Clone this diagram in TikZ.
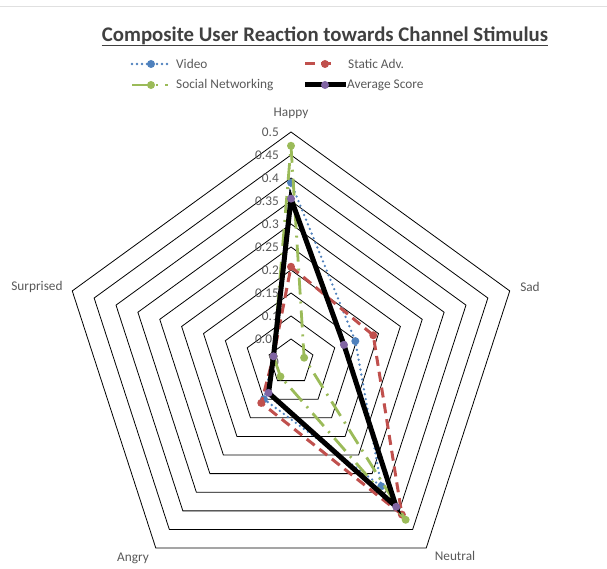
\documentclass[tikz,border=0pt]{standalone}
\usepackage{fontspec}
\setmainfont{Carlito}
\usepackage{tikz}
\definecolor{vidblue}{RGB}{79,129,189}
\definecolor{advred}{RGB}{192,80,77}
\definecolor{socgreen}{RGB}{155,187,89}
\definecolor{avgpurple}{RGB}{128,100,162}
\definecolor{labgrey}{RGB}{89,89,89}
\definecolor{titlegrey}{RGB}{64,64,64}

\tikzset{
  gridline/.style={black, line width=0.8pt, line join=miter},
  ticklabel/.style={text=labgrey, font=\fontsize{13.3}{14}\selectfont, anchor=east, inner sep=0pt},
  axislabel/.style={text=labgrey, font=\fontsize{13.3}{14}\selectfont, inner sep=0pt},
  legtext/.style={text=labgrey, font=\fontsize{13.3}{14}\selectfont, anchor=west, inner sep=0pt},
  videoline/.style={vidblue, line width=2.6pt, line cap=round, dash pattern=on 0pt off 5pt},
  staticline/.style={advred, line width=3pt, dash pattern=on 10pt off 6pt},
  socialline/.style={socgreen, line width=2.8pt, dash pattern=on 17pt off 7pt on 2pt off 7pt},
  averageline/.style={black, line width=5pt, line join=miter},
}
\newcommand{\radarpoints}[2]{%
  \foreach \v [count=\k from 0] in {#2}
    \coordinate (#1\k) at ({90-72*\k}:{\v*460});%
}

\begin{document}
\begin{tikzpicture}[x=1pt,y=1pt]
  \useasboundingbox (0,0) rectangle (607,569);
  \draw[black!12, line width=0.8pt] (0,563) -- (607,563);

  \node[font=\fontsize{20.8}{22}\bfseries\selectfont, text=titlegrey, inner sep=0pt, anchor=base] (title) at (325,527) {Composite User Reaction towards Channel Stimulus};
  \draw[titlegrey, line width=1.2pt] ([yshift=-3.5pt]title.base west) -- ([yshift=-3.5pt]title.base east);

  \node[legtext] (lvideo) at (176,505) {Video};
  \node[legtext] (lstatic) at (348,505) {Static Adv.};
  \node[legtext] (lsocial) at (176,484) {Social Networking};
  \node[legtext] (laverage) at (347,484) {Average Score};
  \draw[videoline] ([xshift=-44pt]lvideo.west) -- ([xshift=-8pt]lvideo.west);
  \fill[vidblue] ([xshift=-25pt]lvideo.west) circle (4);
  \draw[staticline] ([xshift=-43pt]lstatic.west) -- ([xshift=-11pt]lstatic.west);
  \fill[advred] ([xshift=-23pt]lstatic.west) circle (4);
  \draw[socialline] ([xshift=-44pt]lsocial.west) -- ([xshift=-8pt]lsocial.west);
  \fill[socgreen] ([xshift=-25pt]lsocial.west) circle (4);
  \draw[averageline] ([xshift=-42pt]laverage.west) -- ([xshift=-1pt]laverage.west);
  \fill[avgpurple] ([xshift=-22pt]laverage.west) circle (4);

  \begin{scope}[shift={(291,207)}]
    \foreach \r in {1,...,10}
      \draw[gridline] (90:23*\r) -- (18:23*\r) -- (-54:23*\r) -- (-126:23*\r) -- (162:23*\r) -- cycle;
    \node[ticklabel] (t0) at (-12,0) {0};
    \foreach \r/\lab in {1/0.05,2/0.1,3/0.15,4/0.2,5/0.25,6/0.3,7/0.35,8/0.4,9/0.45,10/0.5}
      \node[ticklabel] (t\r) at (-12,23*\r) {\lab};

    \node[axislabel] (happy) at (0,249) {Happy};
    \node[axislabel] (sad) at (239,75) {Sad};
    \node[axislabel] (neutral) at (164,-194) {Neutral};
    \node[axislabel] (angry) at (-158,-196) {Angry};
    \node[axislabel] (surprised) at (-254,75) {Surprised};

    \radarpoints{v}{0.39,0.147,0.334,0.10,0.04}
    \radarpoints{s}{0.207,0.188,0.41,0.11,0.04}
    \radarpoints{g}{0.47,0.03,0.424,0.039,0.04}
    \radarpoints{a}{0.355,0.121,0.389,0.083,0.04}

    \draw[videoline] (v0) -- (v1) -- (v2) -- (v3) -- (v4) -- cycle;
    \foreach \k in {0,...,4} \fill[vidblue] (v\k) circle (4);
    \draw[staticline] (s0) -- (s1) -- (s2) -- (s3) -- (s4) -- cycle;
    \foreach \k in {0,...,4} \fill[advred] (s\k) circle (4);
    \draw[socialline] (g0) -- (g1) -- (g2) -- (g3) -- (g4) -- cycle;
    \foreach \k in {0,...,4} \fill[socgreen] (g\k) circle (4);
    \draw[averageline] (a0) -- (a1) -- (a2) -- (a3) -- (a4) -- cycle;
    \foreach \k in {0,...,4} \fill[avgpurple] (a\k) circle (4);
  \end{scope}
\end{tikzpicture}
\end{document}
